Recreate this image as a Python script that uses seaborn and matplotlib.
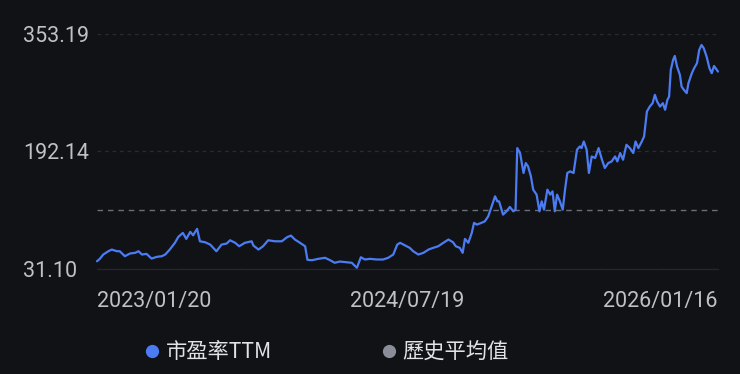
import matplotlib
matplotlib.use("Agg")
import matplotlib.pyplot as plt
from matplotlib.lines import Line2D
import seaborn as sns
import pandas as pd
import numpy as np

# ---------------- data ----------------
start_date = "2023-01-20"
day_offsets = [0,5,11,20,26,35,40,49,58,67,73,79,87,96,105,114,120,128,137,143,
               151,157,164,169,176,181,190,199,210,219,228,234,243,250,260,272,275,284,292,301,
               313,325,334,341,348,357,366,370,
               378,389,401,410,418,427,439,448,457,464,471,480,492,503,512,521,528,533,542,550,
               556,565,574,583,591,600,609,618,626,631,638,643,647,653,659,663,668,676,682,688,
               694,700,704,707,714,720,726,732,736,739,744,750,754,758,763,767,773,778,782,786,
               792,797,801,805,809,814,819,823,827,832,838,844,849,852,856,861,865,870,876,882,
               888,893,899,905,911,915,920,925,931,937,943,947,952,958,962,967,972,977,981,985,
               990,995,999,1003,1006,1009,1013,1016,1020,1025,1028,1032,1037,1040,1046,1050,1055,1059,1063,1067,
               1072,1077,1081,1085,1092]
pe_ttm = [41.7,45.0,50.9,55.4,57.7,55.4,55.4,48.6,52.3,53.2,55.4,50.9,51.8,45.4,47.7,48.6,50.9,57.7,66.9,75.0,
          80.5,72.3,81.9,77.2,86.0,69.0,67.7,64.5,55.4,64.5,65.9,70.4,66.9,62.2,66.9,69.0,63.2,57.7,62.2,70.4,
          69.0,69.0,74.5,76.8,71.4,66.9,62.2,43.7,
          43.1,45.0,46.4,43.1,39.6,41.3,40.4,39.6,32.7,47.2,44.1,45.0,44.1,44.1,46.4,50.9,64.5,66.9,63.2,60.0,
          55.4,50.9,53.2,57.7,60.0,62.2,66.9,71.4,67.7,62.2,60.0,53.2,72.3,66.9,80.5,94.2,91.8,94.2,96.3,103.2,
          116.8,130.5,123.6,123.6,105.5,110.0,116.0,110.0,112.3,196.5,189.7,162.4,176.0,171.4,157.8,139.6,132.8,110.0,123.6,112.3,
          139.6,132.8,137.3,110.0,132.8,123.6,112.3,139.6,162.4,164.6,162.4,194.2,198.7,196.5,205.5,194.2,162.4,185.0,182.9,196.5,
          180.5,169.2,176.0,178.2,185.0,178.2,189.7,180.5,201.0,196.5,189.7,205.5,196.5,205.5,212.3,246.5,253.3,257.9,269.3,260.1,
          253.3,257.9,248.8,262.4,266.9,303.4,317.0,322.5,307.9,296.6,280.6,276.1,271.6,285.2,298.9,305.7,312.5,330.7,337.5,333.0,
          321.5,305.7,298.9,308.8,301.1]
hist_avg = 111.6
y_ticks = [31.10, 192.14, 353.19]
y_tick_labels = ["31.10", "192.14", "353.19"]
x_tick_dates = ["2023-01-20", "2024-07-19", "2026-01-16"]
x_tick_labels = ["2023/01/20", "2024/07/19", "2026/01/16"]
legend_labels = ["市盈率TTM", "歷史平均值"]

# ---------------- style ----------------
BG = "#111216"
LINE = "#4b7cf3"
AVG = "#6a6e75"
GRID = "#2a2c31"
TXT = "#bfc1c5"

sns.set_theme(style="dark")
plt.rcParams["font.family"] = ["Roboto", "Noto Sans CJK TC", "DejaVu Sans"]

dates = pd.to_datetime(start_date) + pd.to_timedelta(day_offsets, unit="D")
df = pd.DataFrame({"date": dates, "pe": pe_ttm})

fig = plt.figure(figsize=(7.4, 3.74), dpi=100, facecolor=BG)
ax = fig.add_axes([97/740, 1 - 269/374, (718 - 97)/740, (269 - 33.5)/374])
ax.set_facecolor(BG)

sns.lineplot(data=df, x="date", y="pe", ax=ax, color=LINE, linewidth=1.6, clip_on=False)
ax.axhline(hist_avg, color=AVG, linewidth=1.0, linestyle=(0, (4, 3.5)), zorder=1)

ax.set_ylim(y_ticks[0], y_ticks[-1])
xt = pd.to_datetime(x_tick_dates)
ax.set_xlim(xt[0], xt[-1])

ax.set_yticks(y_ticks)
ax.set_yticklabels(y_tick_labels)
ax.set_xticks(xt)
ax.set_xticklabels(x_tick_labels)
ax.set_xlabel("")
ax.set_ylabel("")

ax.tick_params(axis="both", length=0, colors=TXT, labelsize=15.5)
ax.tick_params(axis="y", pad=53)
ax.tick_params(axis="x", pad=16)
for lab in ax.get_yticklabels():
    lab.set_ha("left")
    lab.set_color(TXT)
xl = ax.get_xticklabels()
xl[0].set_ha("left")
xl[1].set_ha("center")
xl[2].set_ha("right")
for lab in xl:
    lab.set_color(TXT)

ax.yaxis.grid(True, color=GRID, linewidth=0.9, linestyle=(0, (3, 3)))
ax.xaxis.grid(False)
for s in ["top", "left", "right"]:
    ax.spines[s].set_visible(False)
ax.spines["bottom"].set_visible(True)
ax.spines["bottom"].set_color("#24262b")
ax.spines["bottom"].set_linewidth(1.0)

handles = [
    Line2D([], [], marker="o", linestyle="", markersize=8.5, color=LINE),
    Line2D([], [], marker="o", linestyle="", markersize=8.5, color="#8a8e98"),
]
leg = fig.legend(handles, legend_labels, loc="center", bbox_to_anchor=(327/740, 1 - 352/374),
                 bbox_transform=fig.transFigure, ncol=2, frameon=False,
                 prop={"family": ["Noto Sans CJK TC", "DejaVu Sans"], "size": 15.3},
                 handlelength=0.6, handletextpad=0.35, columnspacing=5.2)
for t in leg.get_texts():
    t.set_color("#e2e3e5")

fig.savefig("out.png", dpi=100, facecolor=BG)
